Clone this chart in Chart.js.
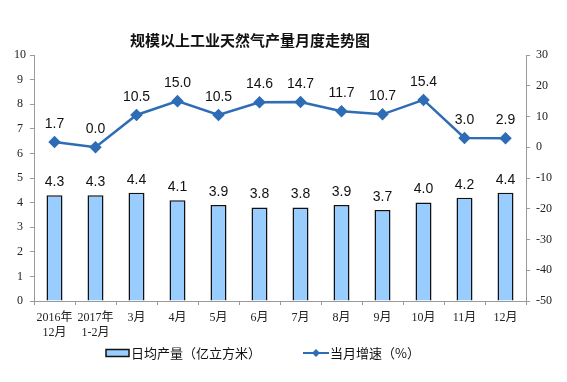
<!DOCTYPE html>
<html><head><meta charset="utf-8">
<script src="https://cdn.jsdelivr.net/npm/chart.js@4/dist/chart.umd.min.js"></script>
<style>html,body{margin:0;padding:0;background:#fff}#wrap{width:567px;height:382px}</style>
</head><body><div id="wrap"><canvas id="c" width="567" height="382"></canvas></div>
<script>
const categories = [["2016年","12月"],["2017年","1-2月"],"3月","4月","5月","6月","7月","8月","9月","10月","11月","12月"];
const dailyOutput = [4.3,4.3,4.4,4.1,3.9,3.8,3.8,3.9,3.7,4.0,4.2,4.4];
const growthRate = [1.7,0.0,10.5,15.0,10.5,14.6,14.7,11.7,10.7,15.4,3.0,2.9];
const titleText = "规模以上工业天然气产量月度走势图";
const legendBar = "日均产量（亿立方米）";
const legendLine = "当月增速（%）";

const LINE_COLOR = "#2E6DB6";
const BAR_FILL = "#99CCFF";
const AXIS = "#9a9a9a";
const SERIF = "'Liberation Serif','Noto Sans CJK SC',serif";
const SANS = "'Liberation Sans','Noto Sans CJK SC',sans-serif";

const labelsPlugin = {
  id: 'custom',
  afterDatasetsDraw(chart) {
    const ctx = chart.ctx;
    ctx.save();
    ctx.fillStyle = '#111';
    ctx.font = "14px " + SANS;
    ctx.textAlign = 'center';
    ctx.textBaseline = 'middle';
    chart.getDatasetMeta(0).data.forEach((el, i) => {
      ctx.fillText(dailyOutput[i].toFixed(1), el.x, el.y - 13);
    });
    chart.getDatasetMeta(1).data.forEach((el, i) => {
      ctx.fillText(growthRate[i].toFixed(1), el.x, el.y - 18);
    });
    ctx.restore();
  },
  afterDraw(chart) {
    const ctx = chart.ctx;
    ctx.save();
    ctx.fillStyle = '#111';
    ctx.font = "bold 15px 'Noto Sans CJK SC',sans-serif";
    ctx.textAlign = 'center';
    ctx.textBaseline = 'middle';
    ctx.fillText(titleText, 250, 40);
    // legend
    ctx.font = "13px 'Noto Sans CJK SC',sans-serif";
    ctx.textAlign = 'left';
    ctx.fillStyle = BAR_FILL;
    ctx.strokeStyle = '#111';
    ctx.lineWidth = 1.5;
    ctx.fillRect(106, 349.5, 23, 7);
    ctx.strokeRect(106, 349.5, 23, 7);
    ctx.fillStyle = '#111';
    ctx.fillText(legendBar, 131, 353);
    ctx.strokeStyle = LINE_COLOR;
    ctx.lineWidth = 2;
    ctx.beginPath(); ctx.moveTo(303, 353); ctx.lineTo(329, 353); ctx.stroke();
    ctx.fillStyle = LINE_COLOR;
    ctx.beginPath(); ctx.moveTo(316, 349); ctx.lineTo(320, 353); ctx.lineTo(316, 357); ctx.lineTo(312, 353); ctx.closePath(); ctx.fill();
    ctx.fillStyle = '#111';
    ctx.fillText(legendLine, 330, 353);
    ctx.restore();
  }
};

new Chart(document.getElementById('c'), {
  data: {
    labels: categories,
    datasets: [
      { type: 'bar', label: legendBar, data: dailyOutput, yAxisID: 'y', order: 1,
        backgroundColor: BAR_FILL, borderColor: '#111', borderWidth: 1.5,
        categoryPercentage: 1, barPercentage: 0.39 },
      { type: 'line', label: legendLine, data: growthRate, yAxisID: 'y1', order: 0,
        borderColor: LINE_COLOR, backgroundColor: LINE_COLOR, borderWidth: 2.5,
        pointStyle: 'rectRot', pointRadius: 4.5, pointHoverRadius: 4.5, tension: 0 }
    ]
  },
  options: {
    responsive: false, animation: false,
    layout: { padding: { top: 55, left: 0, right: 0, bottom: 0 } },
    plugins: { legend: { display: false }, tooltip: { enabled: false }, title: { display: false } },
    scales: {
      x: {
        offset: true,
        grid: { display: true, offset: true, drawOnChartArea: false, drawTicks: true, tickLength: 4, color: AXIS },
        border: { display: true, color: AXIS, width: 1 },
        ticks: { color: '#222', font: { family: SERIF, size: 12 }, padding: 6, maxRotation: 0, autoSkip: false },
        afterFit(s) { s.height = 81; }
      },
      y: {
        position: 'left', min: 0, max: 10,
        ticks: { stepSize: 1, color: '#222', font: { family: SERIF, size: 12 }, crossAlign: 'center', padding: 4 },
        grid: { drawOnChartArea: false, drawTicks: true, tickLength: 4, color: AXIS },
        border: { display: true, color: AXIS, width: 1 },
        afterFit(s) { s.width = 34; }
      },
      y1: {
        position: 'right', min: -50, max: 30,
        ticks: { stepSize: 10, color: '#222', font: { family: SERIF, size: 12 }, padding: 6 },
        grid: { drawOnChartArea: false, drawTicks: true, tickLength: 4, color: AXIS },
        border: { display: true, color: AXIS, width: 1 },
        afterFit(s) { s.width = 41; }
      }
    }
  },
  plugins: [labelsPlugin]
});
</script></body></html>
